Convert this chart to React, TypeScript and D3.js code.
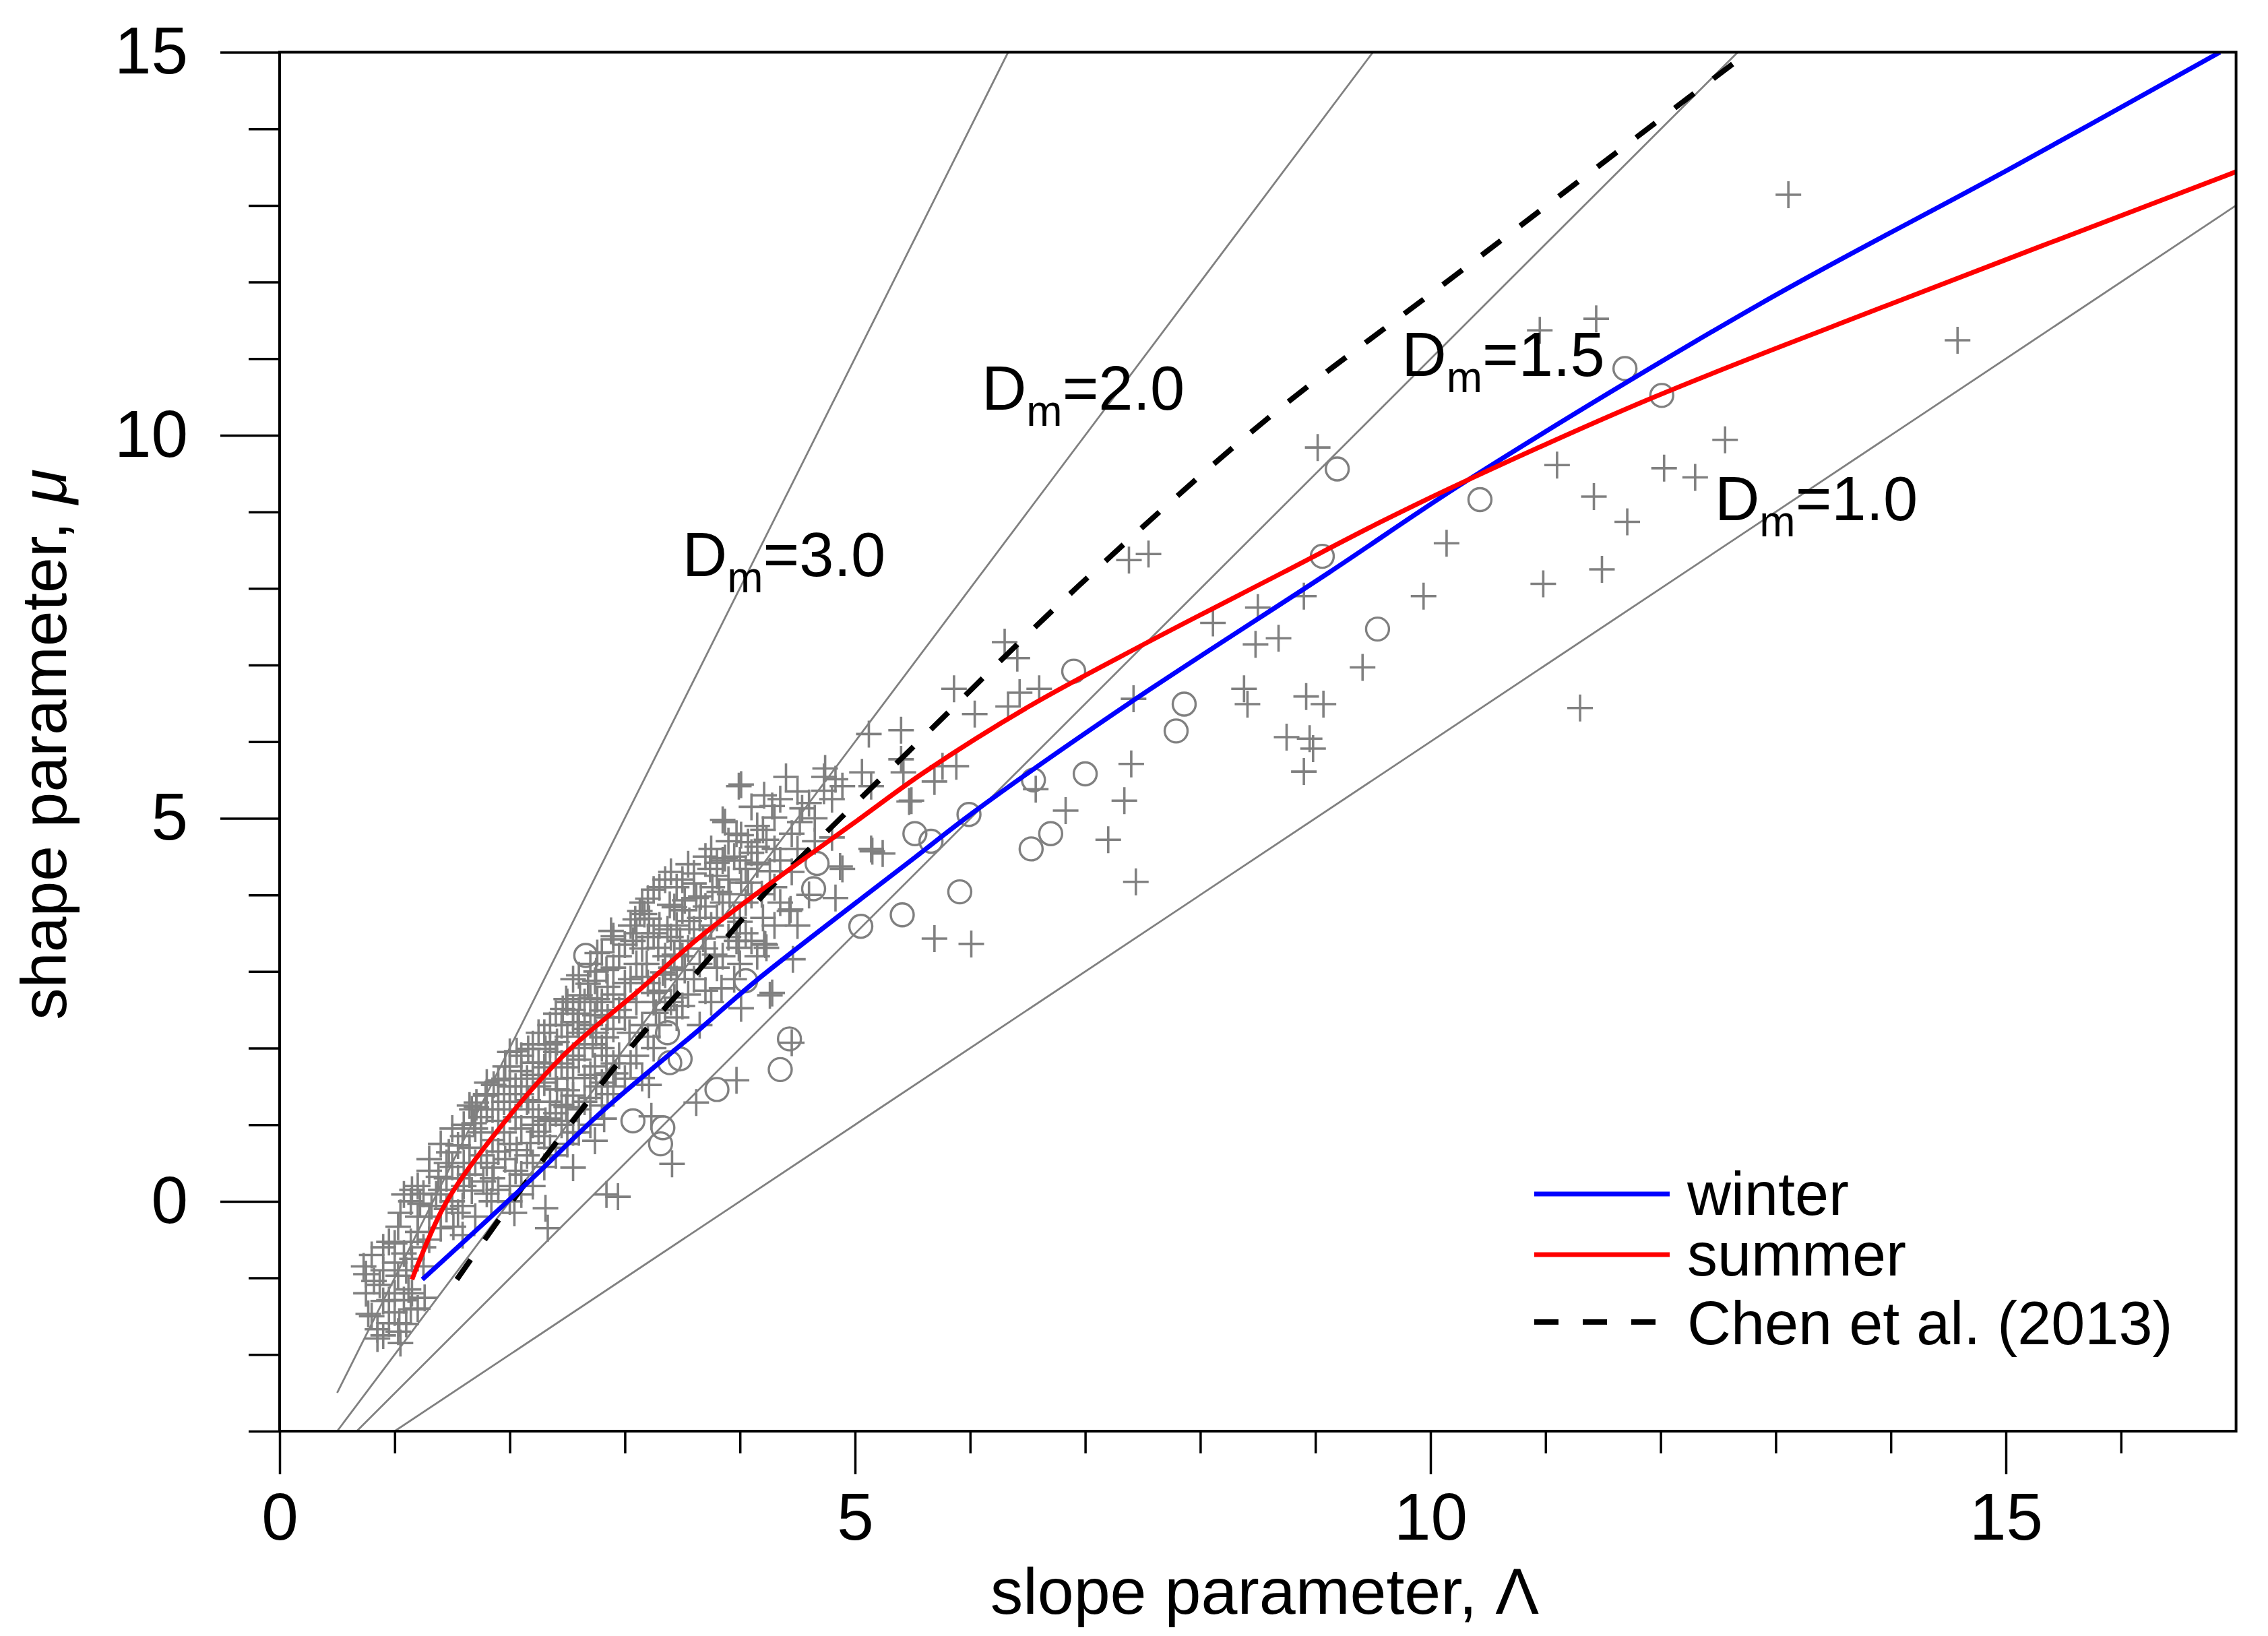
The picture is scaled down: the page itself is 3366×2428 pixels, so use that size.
import React, { useEffect, useRef } from 'react';
import * as d3 from 'd3';

// scatter values: [slope Λ, shape μ]
const plusPoints: [number, number][] = [
  [0.73,-0.85],[0.82,-1.04],[0.87,-1.09],[1.03,-0.97],[1.08,-0.68],[0.95,-0.53],[1.03,-0.33],[1.14,-0.53],
  [0.77,-1.47],[0.85,-1.67],[0.95,-1.59],[1.04,-1.59],[1.03,-1.70],[1.14,-1.41],[1.08,-1.29],[1.26,-1.26],
  [1.12,-1.15],[0.95,-1.29],[0.85,-1.79],
  [1.14,0.0],[1.08,0.09],[1.22,-0.03],[1.32,-0.06],[1.36,0.09],[1.38,0.32],[1.47,0.64],[1.55,0.73],[1.69,1.02],
  [1.67,1.20],[1.79,1.38],[1.90,1.58],[2.00,1.76],[2.10,1.90],[2.20,1.81],[2.31,1.99],[2.41,2.08],[2.55,2.34],
  [2.65,2.25],[2.74,2.43],[2.84,2.14],
  [1.51,-0.33],[1.59,-0.06],[1.67,0.14],[1.77,0.26],[1.86,0.44],[1.96,0.55],[2.06,0.67],[2.00,0.20],[2.04,-0.15],
  [2.31,-0.09],[2.33,-0.35],[2.18,0.76],[2.25,0.91],[2.35,1.08],[2.45,1.26],[2.55,1.38],[2.65,1.61],[2.74,1.76],
  [2.84,1.90],[2.55,0.44],[2.74,0.79],[2.82,1.08],[2.10,0.09],[1.84,0.00],[1.59,-0.44],[2.94,0.06],[2.84,0.09],
  [1.59,0.85],[1.71,1.23],[2.06,1.96],[2.16,1.99],
  [3.25,4.07],[3.17,3.75],[2.90,3.46],[3.07,3.40],[3.60,4.28],[3.74,4.34],[3.85,4.45],[3.99,5.42],[3.85,4.98],
  [3.97,4.80],[4.07,4.69],[3.39,3.87],[3.52,3.93],[3.66,3.98],[3.82,4.04],[4.01,4.16],[3.97,3.40],[3.84,2.78],
  [3.78,3.22],[4.01,2.52],[3.97,1.58],[3.62,1.29],[3.21,1.52],[3.23,1.11],[2.92,1.67],[2.72,2.05],[2.80,2.49],
  [3.00,2.64],[3.15,2.93],[3.33,2.99],[3.43,3.22],[3.27,2.46],[3.04,2.20],[2.59,2.34],[2.49,2.64],[2.68,2.84],
  [2.84,3.02],[2.76,2.64],[2.35,2.05],[2.25,1.81],[1.96,1.76],[1.86,1.52],[1.79,1.40],[1.71,1.29],[2.41,1.46],
  [2.55,1.61],[2.49,1.23],[2.16,1.32],[2.31,1.05],[2.84,1.67],[3.15,1.61],
  [4.01,5.44],[4.21,5.30],[4.40,5.54],[4.28,5.16],[4.30,5.01],[3.87,4.95],[4.01,4.78],[4.15,4.63],[4.23,4.72],
  [4.54,5.13],[4.52,4.95],[4.73,5.54],[4.73,5.36],[4.83,5.51],[4.89,5.42],[5.12,6.10],[5.40,6.15],[5.06,5.60],
  [5.14,5.42],[5.40,5.77],[5.47,5.22],[5.42,5.60],[5.14,4.60],[5.24,4.54],[4.89,4.34],[4.83,3.96],[4.44,3.81],
  [4.23,3.31],[3.99,3.31],[4.28,2.72],[4.46,3.16],[3.80,4.42],[3.87,4.48],[4.05,4.34],[4.15,4.42],[4.26,4.31],
  [3.62,3.96],[3.76,4.10],[3.91,4.01],[4.07,4.16],[4.19,4.01],[3.43,3.84],[3.56,3.66],[3.37,3.55],[3.21,3.69],
  [3.29,3.31],[3.48,3.40],[3.68,3.43],[3.19,3.10],[3.35,2.96],[3.52,3.02],[3.25,2.72],[3.43,2.66],
  [4.74,5.65],[4.87,4.37],[4.43,3.79],[4.22,3.35],[4.26,2.69],[2.88,3.53],[3.09,3.68],[3.13,3.79],[2.90,3.42],
  [2.76,3.24],[2.46,2.51],[2.61,2.69],[2.74,2.88],
  [5.69,3.43],[6.01,3.36],[7.44,4.17],[7.20,4.72],[7.34,5.23],[6.83,5.10],[7.40,5.71],[6.57,5.38],[7.42,6.56],
  [8.38,6.69],[8.41,6.49],[8.92,6.59],[9.07,6.49],[8.75,6.06],[8.95,6.04],[8.98,5.91],[8.90,5.61],[8.11,7.55],
  [8.48,7.27],[8.68,7.35],[8.50,7.75],[8.90,7.90],[6.30,7.30],[6.41,7.09],[5.86,6.69],[6.04,6.36],[6.33,6.46],
  [6.43,6.64],[6.60,6.69],[5.76,5.68],[5.88,5.68],[5.49,5.23],[5.69,5.48],[5.15,4.57],[4.21,3.36],[4.45,2.07],
  [3.41,0.49],
  [7.55,8.45],[7.38,8.37],[9.02,9.84],[9.41,6.97],[9.94,7.90],[11.30,6.44],[13.11,13.14],[11.44,11.52],
  [10.95,11.37],[14.58,11.24],[12.56,9.94],[11.10,9.61],[12.03,9.57],[12.30,9.45],[11.42,9.20],[11.71,8.87],
  [10.14,8.59],[11.49,8.25],[10.98,8.06],
  // crowded part of the band
  [1.20,-0.40],[1.20,-0.20],[1.20,0.20],[1.30,-0.50],[1.30,0.40],[1.45,-0.10],[1.45,0.30],[1.45,0.50],
  [1.60,0.20],[1.60,0.50],[1.60,1.00],[1.75,0.60],[1.75,0.90],[1.75,1.10],[1.85,0.30],[1.85,0.80],[1.85,1.20],
  [1.95,0.90],[1.95,1.30],[1.95,1.60],[2.05,0.40],[2.05,1.10],[2.05,1.50],[2.15,0.60],[2.15,1.30],[2.15,1.60],
  [2.25,1.10],[2.25,1.50],[2.25,2.20],[2.35,0.70],[2.35,1.30],[2.35,1.80],[2.35,2.30],[2.45,1.00],[2.45,1.80],
  [2.45,2.30],[2.55,0.90],[2.55,1.90],[2.55,2.50],[2.55,2.90],[2.65,1.30],[2.65,2.00],[2.65,2.60],[2.75,1.50],
  [2.75,2.20],[2.75,3.00],[2.85,1.40],[2.85,2.40],[2.85,2.80],[2.95,1.90],[2.95,2.50],[2.95,3.20],[3.05,1.80],
  [3.05,2.90],[3.05,3.60],[3.15,2.30],[3.15,3.30],[3.15,3.90],[3.25,2.00],[3.25,2.60],[3.25,3.50],[3.35,2.50],
  [3.35,3.20],[3.35,4.20],[3.45,2.40],[3.45,2.90],[3.45,3.60],[3.45,4.10],[3.55,2.70],[3.55,3.30],[3.55,4.40],
  [3.65,2.30],[3.65,3.10],[3.65,3.70],[3.75,2.60],[3.75,3.60],[3.75,4.60],[3.85,3.20],[3.85,3.90],[3.95,2.90],
  [3.95,3.70],[3.95,4.50],[4.05,3.50],[4.05,3.90],[4.15,3.20],[4.15,4.40],[4.15,4.90],[4.30,3.60],[4.30,4.10],
  [4.30,4.60],[4.45,4.30],[4.45,4.80],[4.60,4.00],[4.60,5.20],
  [0.90,-1.30],[0.90,-0.90],[1.00,-1.20],[1.00,-0.80],[1.10,-0.90],[1.10,-1.60],[1.20,-1.40],
  [0.75,-1.20],[0.75,-0.95],[0.80,-1.50],[0.80,-0.70],[0.90,-1.75],[0.90,-0.60],[1.00,-1.45],[1.00,-0.55],
  [1.05,-1.85],[1.05,-0.15],[1.15,-1.20],[1.15,-0.75],[1.15,0.15],[1.25,-0.85],[1.25,-0.60],[1.25,0.10],
  [1.30,-0.20],[1.30,0.55],[1.40,-0.35],[1.40,0.15],[1.40,0.75],[1.50,0.00],[1.50,0.45],[1.50,0.95],
  [1.55,-0.15],[1.55,0.30],[1.65,0.35],[1.65,0.70],[1.65,1.25],[1.70,-0.20],[1.70,0.50],[1.70,0.95],
  [1.80,0.10],[1.80,0.50],[1.80,1.20],[1.80,1.55],[1.90,0.15],[1.90,0.65],[1.90,1.05],[1.90,1.40],
  [2.00,0.00],[2.00,0.75],[2.00,1.20],[2.00,1.50],[2.00,1.95],[2.10,0.35],[2.10,0.95],[2.10,1.40],[2.10,1.70],
  [2.20,0.20],[2.20,0.50],[2.20,1.00],[2.20,1.20],[2.20,1.65],[2.20,2.05],[2.30,0.45],[2.30,0.85],[2.30,1.55],
  [2.30,1.75],[2.30,2.20],[2.40,0.60],[2.40,1.15],[2.40,1.60],[2.40,1.95],[2.40,2.45],[2.50,0.75],[2.50,1.05],
  [2.50,1.45],[2.50,1.75],[2.50,2.15],[2.50,2.60],[2.60,0.90],[2.60,1.20],[2.60,1.85],[2.60,2.20],[2.60,2.45],
  [2.60,2.95],[2.70,1.00],[2.70,1.35],[2.70,1.65],[2.70,2.30],[2.70,2.65],[2.70,3.10],[2.80,1.25],[2.80,1.55],
  [2.80,2.00],[2.80,2.60],[2.80,3.25],[2.90,1.50],[2.90,1.80],[2.90,2.25],[2.90,2.70],[2.90,3.05],[3.00,1.60],
  [3.00,2.40],[3.00,2.85],[3.00,3.35],[3.10,1.90],[3.10,2.60],[3.10,3.10],[3.10,3.50],[3.20,2.15],[3.20,2.85],
  [3.20,3.45],[3.20,3.95],[3.30,2.30],[3.30,2.75],[3.30,3.60],[3.30,4.10],[3.40,2.60],[3.40,3.05],[3.40,3.45],
  [3.40,4.30],[3.50,2.55],[3.50,3.20],[3.50,3.80],[3.50,4.20],[3.60,2.90],[3.60,3.55],[3.60,4.15],[3.70,2.75],
  [3.70,3.30],[3.70,3.85],[3.70,4.50],[3.80,3.05],[3.80,3.70],[3.80,4.25],[3.90,3.45],[3.90,4.20],[3.90,4.70],
  [4.00,3.10],[4.00,3.65],[4.00,4.45],[4.10,3.40],[4.10,4.00],[4.10,4.55],[4.10,5.15],[4.20,3.70],[4.20,4.85],
  [4.35,3.90],[4.35,4.45],[4.35,5.25],[4.50,3.60],[4.50,4.60],[4.50,5.35],[4.65,4.70],[4.65,5.00],[4.80,4.75],
  [4.80,5.25],
];

const circlePoints: [number, number][] = [
  [2.66,3.21],[3.37,2.20],[3.48,1.86],[3.39,1.81],[4.05,2.88],[3.80,1.46],[3.07,1.05],[3.33,0.96],[3.31,0.75],
  [4.64,4.08],[4.67,4.41],[4.43,2.12],[4.35,1.72],[5.05,3.59],[5.41,3.74],[5.52,4.80],[5.66,4.70],[5.91,4.04],
  [5.99,5.05],[6.53,4.60],[6.70,4.80],[6.55,5.50],[7.00,5.58],[6.90,6.92],[7.86,6.49],[7.79,6.14],[9.06,8.42],
  [9.19,9.56],[9.54,7.47],[10.43,9.16],[11.69,10.87],[12.01,10.52],
];

// fitted curves, points
const winterCurve: [number, number][] = [
  [1.24,-1.02],[2.16,0.25],[2.80,1.17],[3.66,2.26],[4.14,2.88],[5.53,4.50],[6.03,5.08],[7.37,6.49],
  [9.12,8.21],[10.33,9.42],[12.87,11.72],[15.0,13.45],[16.86,15.0],
];
const summerCurve: [number, number][] = [
  [1.15,-1.02],[1.43,-0.06],[1.84,0.82],[2.47,1.91],[3.12,2.75],[3.66,3.46],[4.30,4.19],[5.0,4.95],
  [5.60,5.60],[6.50,6.45],[7.47,7.24],[8.72,8.21],[9.57,8.87],[10.33,9.42],[11.93,10.49],[14.01,11.72],[17.0,13.44],
];
const chenCurve: [number, number][] = [
  [1.54,-1.02],[2.03,0.02],[2.60,1.15],[3.08,2.06],[3.68,3.08],[4.18,3.96],[4.55,4.52],[5.45,5.85],
  [6.94,8.03],[8.57,10.2],[10.2,12.07],[12.76,15.0],
];

// constant-Dm guide lines (end points) and their labels
const dmNames = ['3.0', '2.0', '1.5', '1.0'];
const dmLineEnds: [number, number][][] = [
  [[0.5,-2.5],[6.33,15]],
  [[0.5,-3],[9.5,15]],
  [[0.67,-3],[12.67,15]],
  [[1.0,-3],[17,13]],
];
const dmLabelAt: [number, number][] = [[3.50,8.16],[6.10,10.33],[9.75,10.77],[12.47,8.89]];

const xMajor = [0, 5, 10, 15];
const yMajor = [0, 5, 10, 15];

const legendItems = [
  { label: 'winter', color: '#0000ff', dash: '' },
  { label: 'summer', color: '#ff0000', dash: '' },
  { label: 'Chen et al. (2013)', color: '#000000', dash: '36,36' },
];

const FONT = '"Liberation Sans", Arial, Helvetica, sans-serif';
const GRAY = '#808080';

export default function App() {
  const svgRef = useRef<SVGSVGElement>(null);

  useEffect(() => {
    if (!svgRef.current) return;
    const svg = d3.select(svgRef.current);
    svg.selectAll('*').remove();

    const x = d3.scaleLinear().domain([0, 17]).range([415, 3318.6]);
    const y = d3.scaleLinear().domain([-3, 15]).range([2124, 77.5]);

    svg.append('rect').attr('width', 3366).attr('height', 2428).attr('fill', '#fff');

    svg.append('defs').append('clipPath').attr('id', 'plot-clip')
      .append('rect')
      .attr('x', x(0)).attr('y', y(15))
      .attr('width', x(17) - x(0)).attr('height', y(-3) - y(15));

    const plot = svg.append('g').attr('clip-path', 'url(#plot-clip)');

    // Dm guide lines
    plot.append('g').selectAll('line').data(dmLineEnds).join('line')
      .attr('x1', d => x(d[0][0])).attr('y1', d => y(d[0][1]))
      .attr('x2', d => x(d[1][0])).attr('y2', d => y(d[1][1]))
      .attr('stroke', GRAY).attr('stroke-width', 2.8);

    // scatter
    plot.append('g').selectAll('path').data(plusPoints).join('path')
      .attr('transform', d => `translate(${x(d[0])},${y(d[1])})`)
      .attr('d', 'M-19,0H19M0,-20V20')
      .attr('fill', 'none').attr('stroke', GRAY).attr('stroke-width', 3.6);

    plot.append('g').selectAll('circle').data(circlePoints).join('circle')
      .attr('cx', d => x(d[0])).attr('cy', d => y(d[1])).attr('r', 17)
      .attr('fill', 'none').attr('stroke', GRAY).attr('stroke-width', 3.4);

    // curves
    const line = d3.line<[number, number]>()
      .x(d => x(d[0])).y(d => y(d[1]))
      .curve(d3.curveCatmullRom.alpha(0.5));

    plot.append('path').datum(chenCurve).attr('d', line)
      .attr('fill', 'none').attr('stroke', '#000').attr('stroke-width', 8)
      .attr('stroke-dasharray', '36,36');
    plot.append('path').datum(winterCurve).attr('d', line)
      .attr('fill', 'none').attr('stroke', '#0000ff').attr('stroke-width', 7);
    plot.append('path').datum(summerCurve).attr('d', line)
      .attr('fill', 'none').attr('stroke', '#ff0000').attr('stroke-width', 7);

    // Dm labels
    dmNames.forEach((name, i) => {
      const t = svg.append('text')
        .attr('x', x(dmLabelAt[i][0])).attr('y', y(dmLabelAt[i][1]))
        .attr('font-family', FONT).attr('font-size', 92).attr('fill', '#000');
      t.append('tspan').text('D');
      t.append('tspan').attr('font-size', 64).attr('dy', 24).text('m');
      t.append('tspan').attr('dy', -24).text('=' + name);
    });

    // frame
    svg.append('rect')
      .attr('x', x(0)).attr('y', y(15))
      .attr('width', x(17) - x(0)).attr('height', y(-3) - y(15))
      .attr('fill', 'none').attr('stroke', '#000').attr('stroke-width', 4);

    const styleAxis = (g: d3.Selection<SVGGElement, unknown, null, undefined>) => {
      g.select('.domain').remove();
      g.selectAll('line').attr('stroke', '#000').attr('stroke-width', 3.5);
      g.selectAll('text').attr('font-family', FONT).attr('font-size', 98).attr('fill', '#000');
    };

    const xMinor = d3.range(1, 17).filter(v => !xMajor.includes(v));
    const yMinor = d3.range(-3, 15).filter(v => !yMajor.includes(v));

    svg.append('g').attr('transform', `translate(0,${y(-3)})`)
      .call(d3.axisBottom(x).tickValues(xMinor).tickSize(33).tickFormat(() => ''))
      .call(styleAxis);
    svg.append('g').attr('transform', `translate(0,${y(-3)})`)
      .call(d3.axisBottom(x).tickValues(xMajor).tickSize(64).tickPadding(27).tickFormat(d3.format('d')))
      .call(styleAxis);

    svg.append('g').attr('transform', `translate(${x(0)},0)`)
      .call(d3.axisLeft(y).tickValues(yMinor).tickSize(46).tickFormat(() => ''))
      .call(styleAxis);
    svg.append('g').attr('transform', `translate(${x(0)},0)`)
      .call(d3.axisLeft(y).tickValues(yMajor).tickSize(88).tickPadding(48).tickFormat(d3.format('d')))
      .call(styleAxis);

    // axis titles
    svg.append('text')
      .attr('x', (x(0) + x(17)) / 2 + 10).attr('y', 2395)
      .attr('text-anchor', 'middle').attr('font-family', FONT).attr('font-size', 97)
      .text('slope parameter, Λ');

    const yt = svg.append('text')
      .attr('transform', `translate(98,${(y(15) + y(-3)) / 2 + 4}) rotate(-90)`)
      .attr('text-anchor', 'middle').attr('font-family', FONT).attr('font-size', 95);
    yt.append('tspan').text('shape parameter, ');
    yt.append('tspan').attr('font-style', 'italic').text('μ');

    // legend
    const legendY = [1772, 1862, 1962];
    const lg = svg.append('g');
    legendItems.forEach((item, i) => {
      lg.append('line')
        .attr('x1', 2277).attr('x2', 2478)
        .attr('y1', legendY[i]).attr('y2', legendY[i])
        .attr('stroke', item.color).attr('stroke-width', i === 2 ? 8 : 7)
        .attr('stroke-dasharray', item.dash || null);
      lg.append('text')
        .attr('x', 2504).attr('y', legendY[i] + (i === 2 ? 33 : 31))
        .attr('font-family', FONT).attr('font-size', 90)
        .text(item.label);
    });
  }, []);

  return (
    <svg
      ref={svgRef}
      width={3366}
      height={2428}
      style={{ position: 'absolute', left: 0, top: 0, display: 'block' }}
    />
  );
}
